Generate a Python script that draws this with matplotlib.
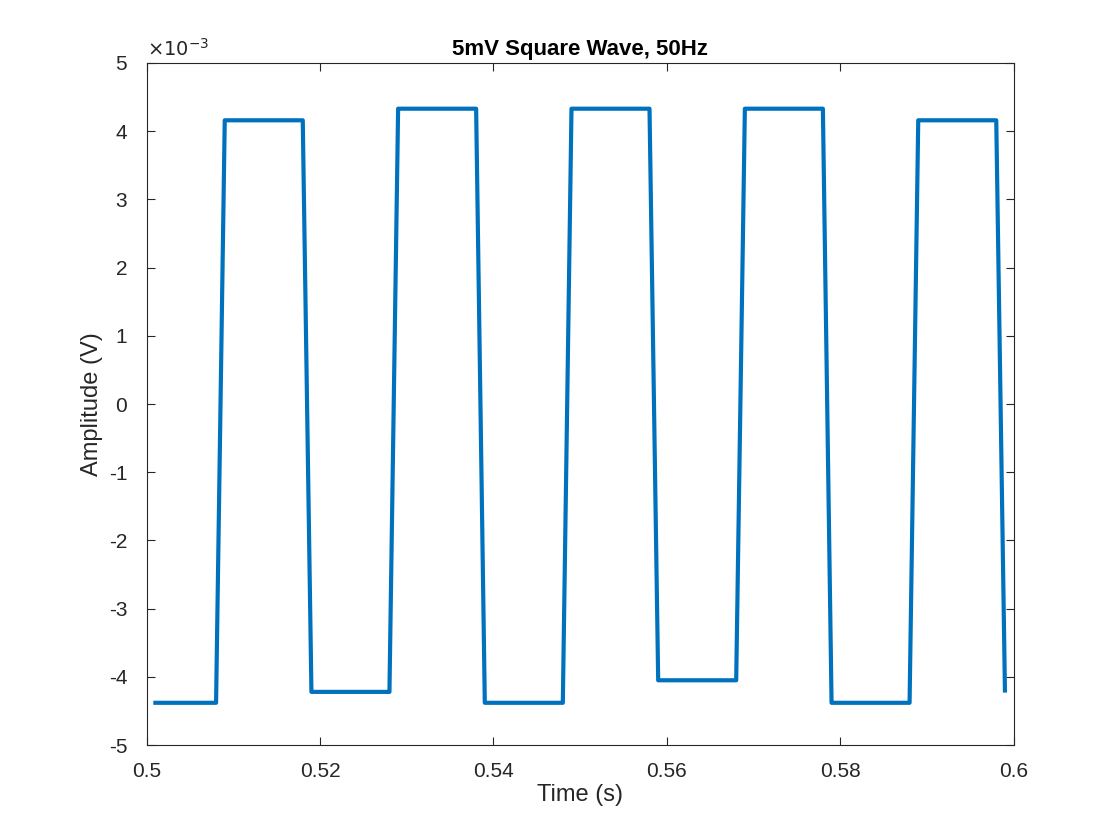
import matplotlib
matplotlib.use('Agg')
import matplotlib.pyplot as plt

# polyline vertices of the sampled square wave (1 ms sampling)
t = [0.501, 0.508, 0.509, 0.518, 0.519, 0.528, 0.529, 0.538, 0.539, 0.548,
     0.549, 0.558, 0.559, 0.568, 0.569, 0.578, 0.579, 0.588, 0.589, 0.598, 0.599]
v = [-4.38, -4.38, 4.16, 4.16, -4.22, -4.22, 4.33, 4.33, -4.38, -4.38,
     4.33, 4.33, -4.05, -4.05, 4.33, 4.33, -4.38, -4.38, 4.16, 4.16, -4.20]
v = [x * 1e-3 for x in v]

xticks = [0.5, 0.52, 0.54, 0.56, 0.58, 0.6]
xlabels = ['0.5', '0.52', '0.54', '0.56', '0.58', '0.6']
yticks = list(range(-5, 6))

plt.rcParams['font.family'] = ['Liberation Sans', 'DejaVu Sans']
fig = plt.figure(figsize=(11.2, 8.4), dpi=100)
ax = fig.add_axes([0.131, 0.113, 0.774, 0.812])
ax.plot(t, v, color='#0072BD', linewidth=3)

ax.set_xlim(0.5, 0.6)
ax.set_ylim(-5e-3, 5e-3)
ax.set_xticks(xticks)
ax.set_xticklabels(xlabels)
ax.set_yticks([y * 1e-3 for y in yticks])
ax.set_yticklabels([str(y) for y in yticks])
ax.tick_params(direction='in', top=True, right=True, labelsize=15, colors='#262626', length=6)
ax.tick_params(axis='y', pad=14)
ax.tick_params(axis='x', pad=12)
for s in ax.spines.values():
    s.set_color('#262626')
    s.set_linewidth(0.8)
ax.text(0.0, 1.005, r'$\times10^{-3}$', transform=ax.transAxes, fontsize=14,
        color='#262626', va='bottom', ha='left')
ax.set_title('5mV Square Wave, 50Hz', fontsize=16, fontweight='bold', color='black', pad=6)
ax.set_xlabel('Time (s)', fontsize=17, color='#262626', labelpad=2)
ax.set_ylabel('Amplitude (V)', fontsize=17, color='#262626', labelpad=4)
fig.savefig('out.png', dpi=100, facecolor='white')
